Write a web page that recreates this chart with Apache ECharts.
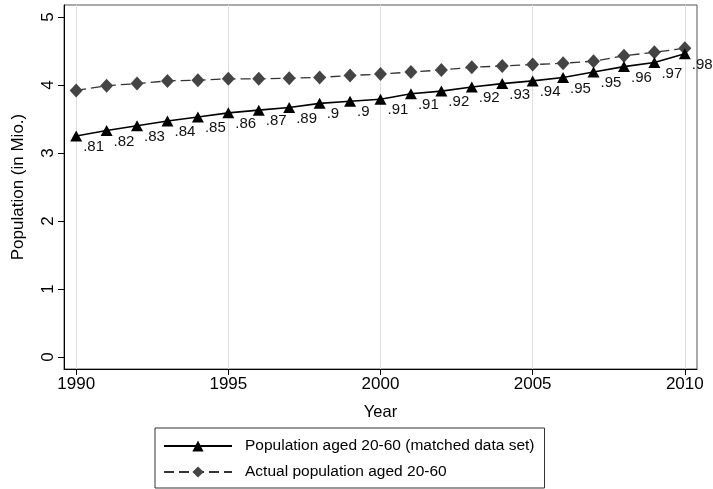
<!DOCTYPE html>
<html><head><meta charset="utf-8">
<script src="https://cdn.jsdelivr.net/npm/echarts@6/dist/echarts.min.js"></script>
<style>html,body{margin:0;padding:0;background:#fff}#c{width:713px;height:489px}</style>
</head><body><div id="c"></div>
<script>
const years = [1990,1991,1992,1993,1994,1995,1996,1997,1998,1999,2000,2001,2002,2003,2004,2005,2006,2007,2008,2009,2010];
const matched = [3.25,3.33,3.40,3.47,3.53,3.59,3.63,3.67,3.73,3.76,3.79,3.87,3.91,3.97,4.02,4.06,4.11,4.19,4.27,4.33,4.46];
const actual = [3.92,3.99,4.02,4.06,4.07,4.09,4.09,4.10,4.11,4.14,4.16,4.19,4.22,4.26,4.28,4.30,4.32,4.35,4.43,4.48,4.54];
const ratioLabels = ['.81','.82','.83','.84','.85','.86','.87','.89','.9','.9','.91','.91','.92','.92','.93','.94','.95','.95','.96','.97','.98'];
const xTicks = [1990,1995,2000,2005,2010];
const yTicks = [0,1,2,3,4,5];
const seriesNames = ['Population aged 20-60 (matched data set)','Actual population aged 20-60'];

const FONT = '"Liberation Sans", Arial, Helvetica, sans-serif';
const chart = echarts.init(document.getElementById('c'), null, {renderer:'canvas'});
chart.setOption({
  animation:false,
  backgroundColor:'#fff',
  textStyle:{fontFamily:FONT},
  grid:{left:64,right:16,top:5,bottom:120,show:true,borderColor:'#555',borderWidth:1,backgroundColor:'#fff'},
  xAxis:{type:'value',min:1989.6,max:2010.4,
    name:'Year',nameLocation:'middle',nameGap:35,nameTextStyle:{fontSize:16.5,color:'#000',fontFamily:FONT},
    axisLine:{show:true,onZero:false,lineStyle:{color:'#000',width:1}},
    axisTick:{show:true,length:6,customValues:xTicks,lineStyle:{color:'#000'}},
    axisLabel:{customValues:xTicks,fontSize:17,color:'#000',margin:7,fontFamily:FONT,formatter:v=>String(v)},
    splitLine:{show:true,lineStyle:{color:'#dedede',width:1}}},
  yAxis:{type:'value',min:-0.176,max:5.176,
    name:'Population (in Mio.)',nameLocation:'middle',nameGap:37,nameRotate:90,nameTextStyle:{fontSize:17,color:'#000',fontFamily:FONT},
    axisLine:{show:true,onZero:false,lineStyle:{color:'#000',width:1}},
    axisTick:{show:true,length:6,customValues:yTicks,lineStyle:{color:'#000'}},
    axisLabel:{customValues:yTicks,rotate:90,fontSize:17,color:'#000',margin:7,fontFamily:FONT,formatter:v=>String(v)},
    splitLine:{show:false}},
  legend:{orient:'vertical',left:155,top:428,width:386,itemWidth:68,itemHeight:14,itemGap:10,
    padding:[10,10,8,8],borderColor:'#333',borderWidth:1,
    textStyle:{fontSize:15.5,color:'#000',fontFamily:FONT,padding:[0,0,0,8]},
    data:seriesNames},
  series:[
    {name:seriesNames[0],type:'line',data:years.map((y,i)=>[y,matched[i]]),
     symbol:'triangle',symbolSize:[12,11],itemStyle:{color:'#000'},
     lineStyle:{color:'#000',width:1.6},z:3,
     label:{show:true,position:'right',distance:1,offset:[0,11],fontSize:15,color:'#111',fontFamily:FONT,
       formatter:p=>ratioLabels[p.dataIndex]}},
    {name:seriesNames[1],type:'line',data:years.map((y,i)=>[y,actual[i]]),
     symbol:'diamond',symbolSize:[13,14],itemStyle:{color:'#444'},
     lineStyle:{color:'#333',width:1.3,type:[10,5]},z:2}
  ]
});
</script></body></html>
